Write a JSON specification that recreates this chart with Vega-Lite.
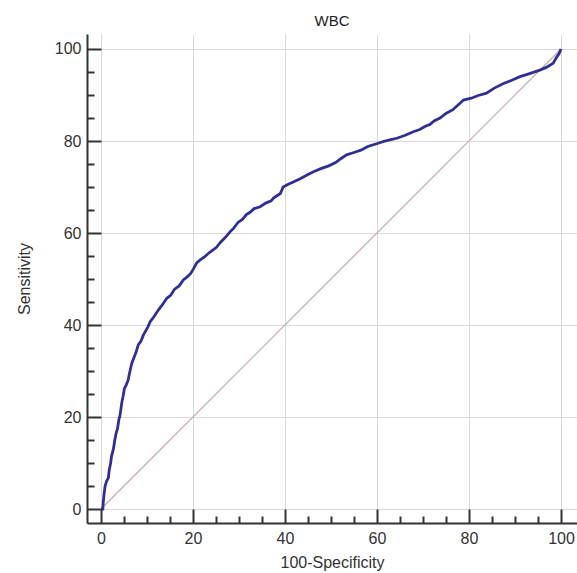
{
  "$schema": "https://vega.github.io/schema/vega-lite/v6.json",
  "autosize": "none",
  "width": 490,
  "height": 489,
  "padding": {"left": 87, "top": 34, "right": 0, "bottom": 50},
  "title": {"text": "WBC", "frame": "group", "anchor": "middle", "baseline": "alphabetic", "offset": -7, "fontSize": 15, "font": "Liberation Sans", "fontWeight": "normal", "color": "#222"},
  "datasets": {
    "roc": [
      {"x": 0, "y": 0}, {"x": 0.4, "y": 0}, {"x": 0.5, "y": 1.5}, {"x": 0.7, "y": 3.5}, {"x": 0.9, "y": 5},
      {"x": 1.2, "y": 6}, {"x": 1.6, "y": 6.8}, {"x": 1.8, "y": 8.5}, {"x": 2.1, "y": 10}, {"x": 2.3, "y": 11.5},
      {"x": 2.7, "y": 13}, {"x": 3.0, "y": 15}, {"x": 3.3, "y": 16.5}, {"x": 3.6, "y": 17.5}, {"x": 3.9, "y": 19.5},
      {"x": 4.1, "y": 20.2}, {"x": 4.3, "y": 21.5}, {"x": 4.5, "y": 23}, {"x": 4.8, "y": 24.5}, {"x": 5.1, "y": 26.2},
      {"x": 5.5, "y": 27}, {"x": 5.9, "y": 28}, {"x": 6.2, "y": 29.5}, {"x": 6.7, "y": 31.7}, {"x": 7.2, "y": 33},
      {"x": 7.6, "y": 34}, {"x": 8.1, "y": 35.7}, {"x": 8.7, "y": 36.5}, {"x": 9.2, "y": 37.8}, {"x": 9.6, "y": 38.5},
      {"x": 10.2, "y": 39.6}, {"x": 10.7, "y": 40.7}, {"x": 11.5, "y": 41.8}, {"x": 12.5, "y": 43.3}, {"x": 13.2, "y": 44.2},
      {"x": 14.3, "y": 45.8}, {"x": 15.2, "y": 46.5}, {"x": 16.0, "y": 47.8}, {"x": 17.0, "y": 48.5}, {"x": 17.9, "y": 49.8},
      {"x": 18.8, "y": 50.5}, {"x": 19.5, "y": 51.2}, {"x": 20.1, "y": 52.2}, {"x": 20.8, "y": 53.5}, {"x": 21.5, "y": 54.1},
      {"x": 22.5, "y": 54.8}, {"x": 23.5, "y": 55.7}, {"x": 24.3, "y": 56.3}, {"x": 25.1, "y": 56.9}, {"x": 26.0, "y": 58.0},
      {"x": 27.0, "y": 59.0}, {"x": 28.0, "y": 60.2}, {"x": 28.8, "y": 61.0}, {"x": 29.8, "y": 62.3}, {"x": 30.8, "y": 63.0},
      {"x": 31.6, "y": 64.0}, {"x": 32.4, "y": 64.5}, {"x": 33.3, "y": 65.3}, {"x": 34.6, "y": 65.7}, {"x": 35.8, "y": 66.5},
      {"x": 37.0, "y": 67.0}, {"x": 37.5, "y": 67.6}, {"x": 38.4, "y": 68.2}, {"x": 39.0, "y": 68.6}, {"x": 39.6, "y": 70.0},
      {"x": 40.5, "y": 70.5}, {"x": 41.8, "y": 71.1}, {"x": 43.3, "y": 71.8}, {"x": 44.8, "y": 72.6}, {"x": 46.2, "y": 73.3},
      {"x": 47.8, "y": 74.0}, {"x": 49.5, "y": 74.6}, {"x": 51.0, "y": 75.3}, {"x": 52.2, "y": 76.2}, {"x": 53.4, "y": 77.0},
      {"x": 55.0, "y": 77.5}, {"x": 56.5, "y": 78.0}, {"x": 58.0, "y": 78.8}, {"x": 59.9, "y": 79.4}, {"x": 61.5, "y": 79.9},
      {"x": 63.0, "y": 80.3}, {"x": 64.3, "y": 80.6}, {"x": 66.0, "y": 81.2}, {"x": 67.9, "y": 82.0}, {"x": 69.3, "y": 82.5},
      {"x": 70.5, "y": 83.2}, {"x": 71.5, "y": 83.6}, {"x": 72.5, "y": 84.4}, {"x": 73.7, "y": 85.0}, {"x": 75.0, "y": 86.0},
      {"x": 76.5, "y": 86.8}, {"x": 77.8, "y": 88.0}, {"x": 78.8, "y": 88.9}, {"x": 80.5, "y": 89.3}, {"x": 82.0, "y": 89.9},
      {"x": 83.8, "y": 90.4}, {"x": 85.5, "y": 91.5}, {"x": 87.5, "y": 92.5}, {"x": 89.3, "y": 93.2}, {"x": 91.1, "y": 94.0},
      {"x": 93.0, "y": 94.6}, {"x": 95.4, "y": 95.4}, {"x": 96.8, "y": 96.0}, {"x": 98.3, "y": 96.9}, {"x": 99.1, "y": 98.3},
      {"x": 99.6, "y": 99.0}, {"x": 100, "y": 100}
    ],
    "diag": [{"x": 0, "y": 0}, {"x": 100, "y": 100}]
  },
  "encoding": {
    "x": {
      "field": "x", "type": "quantitative",
      "scale": {"domain": [-3.04, 103.48], "nice": false, "zero": false},
      "axis": {
        "title": "100-Specificity",
        "values": [0, 5, 10, 15, 20, 25, 30, 35, 40, 45, 50, 55, 60, 65, 70, 75, 80, 85, 90, 95, 100],
        "labelExpr": "datum.value % 20 === 0 ? datum.label : ''",
        "tickSize": {"condition": {"test": "datum.value % 20 === 0", "value": -14}, "value": -7},
        "gridOpacity": {"condition": {"test": "datum.value % 20 === 0", "value": 1}, "value": 0},
        "labelPadding": 21,
        "titlePadding": 1
      }
    },
    "y": {
      "field": "y", "type": "quantitative",
      "scale": {"domain": [-3.04, 103.26], "nice": false, "zero": false},
      "axis": {
        "title": "Sensitivity",
        "values": [0, 5, 10, 15, 20, 25, 30, 35, 40, 45, 50, 55, 60, 65, 70, 75, 80, 85, 90, 95, 100],
        "labelExpr": "datum.value % 20 === 0 ? datum.label : ''",
        "tickSize": {"condition": {"test": "datum.value % 20 === 0", "value": -14}, "value": -7},
        "gridOpacity": {"condition": {"test": "datum.value % 20 === 0", "value": 1}, "value": 0},
        "labelPadding": 20,
        "titlePadding": 22
      }
    }
  },
  "layer": [
    {
      "data": {"name": "diag"},
      "mark": {"type": "line", "color": "#c9a3a3", "strokeWidth": 1.2}
    },
    {
      "data": {"name": "roc"},
      "mark": {"type": "line", "color": "#2e3192", "strokeWidth": 2.8}
    }
  ],
  "config": {
    "view": {"stroke": null},
    "axis": {
      "gridColor": "#d9d9d9",
      "gridWidth": 1,
      "domainColor": "#333333",
      "domainWidth": 2,
      "tickColor": "#333333",
      "tickWidth": 2,
      "labelFont": "Liberation Sans",
      "labelFontSize": 16,
      "labelColor": "#333333",
      "labelFlush": false,
      "labelOverlap": false,
      "titleFont": "Liberation Sans",
      "titleFontSize": 16,
      "titleFontWeight": "normal",
      "titleColor": "#333333"
    }
  }
}
